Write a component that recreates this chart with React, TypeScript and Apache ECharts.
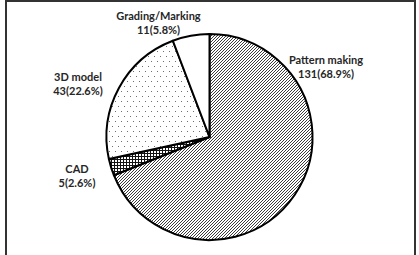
import React, { useEffect, useRef } from "react";
import * as echarts from "echarts";

const categories = ["Pattern making", "CAD", "3D model", "Grading/Marking"];
const values = [131, 5, 43, 11];
const labelPos: [number, number][] = [
  [326, 66.5],
  [77, 175.5],
  [78, 83],
  [158.5, 22],
];

function makeTile(w: number, h: number, on: (x: number, y: number) => boolean, ink: [number, number, number]) {
  const c = document.createElement("canvas");
  c.width = w;
  c.height = h;
  const ctx = c.getContext("2d")!;
  const img = ctx.createImageData(w, h);
  for (let y = 0; y < h; y++) {
    for (let x = 0; x < w; x++) {
      const i = (y * w + x) * 4;
      const p = on(x, y);
      img.data[i] = p ? ink[0] : 255;
      img.data[i + 1] = p ? ink[1] : 255;
      img.data[i + 2] = p ? ink[2] : 255;
      img.data[i + 3] = 255;
    }
  }
  ctx.putImageData(img, 0, 0);
  return c.toDataURL();
}

export default function App() {
  const ref = useRef<HTMLDivElement>(null);
  useEffect(() => {
    document.body.style.margin = "0";
    const chart = echarts.init(ref.current!, null, { renderer: "svg" });
    const hatch = makeTile(3, 3, (x, y) => (x + y) % 3 === 0, [60, 60, 60]);
    const cross = makeTile(3, 3, (x, y) => x % 3 === 0 || y % 3 === 0, [20, 20, 20]);
    const dots = makeTile(6, 10, (x, y) => (x === 1 && y === 1) || (x === 4 && y === 6), [110, 110, 110]);
    const fills = [
      { image: hatch, repeat: "repeat", imageWidth: 3, imageHeight: 3 },
      { image: cross, repeat: "repeat", imageWidth: 3, imageHeight: 3 },
      { image: dots, repeat: "repeat", imageWidth: 6, imageHeight: 10 },
      "#ffffff",
    ];
    const total = values.reduce((a, b) => a + b, 0);
    const labels = categories.map((name, i) => ({
      type: "text",
      x: labelPos[i][0],
      y: labelPos[i][1],
      z: 20,
      style: {
        text: `${name}\n${values[i]}(${((values[i] / total) * 100).toFixed(1)}%)`,
        align: "center",
        verticalAlign: "middle",
        fontFamily: "Lato",
        fontWeight: "bold",
        fontSize: 11,
        lineHeight: 14,
        fill: "#262626",
      },
    }));
    chart.setOption({
      animation: false,
      graphic: [
        {
          type: "rect",
          shape: { x: 6, y: 1, width: 409, height: 300 },
          style: { fill: "none", stroke: "#333", lineWidth: 2 },
          z: 10,
        },
        ...labels,
      ],
      series: [
        {
          type: "pie",
          center: [209.5, 137],
          radius: 103,
          startAngle: 90,
          clockwise: true,
          itemStyle: { borderColor: "#000", borderWidth: 2 },
          label: { show: false },
          labelLine: { show: false },
          emphasis: { disabled: true },
          data: categories.map((name, i) => ({
            name,
            value: values[i],
            itemStyle: { color: fills[i] },
          })),
        },
      ],
    });
    return () => chart.dispose();
  }, []);
  return <div ref={ref} style={{ width: 419, height: 255 }} />;
}
